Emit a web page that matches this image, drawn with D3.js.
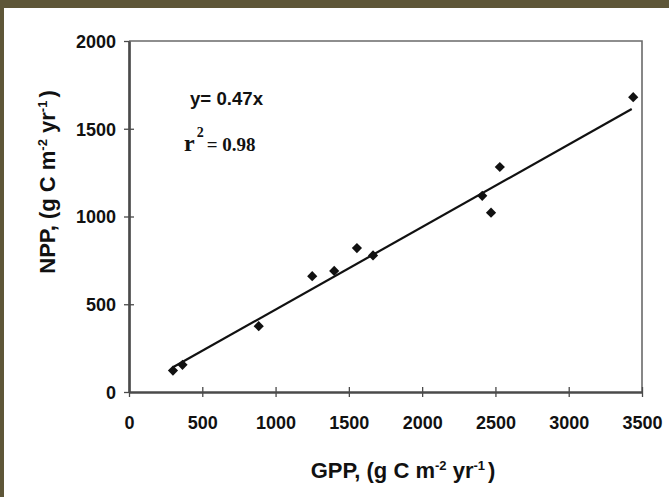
<!DOCTYPE html>
<html>
<head>
<meta charset="utf-8">
<script src="https://cdn.jsdelivr.net/npm/d3@7"></script>
<style>
  html, body { margin: 0; padding: 0; background: #ffffff; }
  svg { display: block; }
</style>
</head>
<body>
<svg id="chart" width="669" height="497"></svg>
<script>
// GPP vs NPP observations
const gpp = [300, 365, 885, 1250, 1400, 1555, 1665, 2410, 2470, 2530, 3440];
const npp = [122, 155, 375, 660, 690, 820, 778, 1118, 1022, 1282, 1680];
const xTicks = [0, 500, 1000, 1500, 2000, 2500, 3000, 3500];
const yTicks = [0, 500, 1000, 1500, 2000];
const slope = 0.47;
const rSquared = "0.98";
const fitRange = [300, 3430];

const svg = d3.select("#chart");
const W = 669, H = 497;

// outer olive frame
svg.append("rect").attr("x", 0).attr("y", 0).attr("width", W).attr("height", H).attr("fill", "#5e5638");
svg.append("rect").attr("x", 4).attr("y", 8).attr("width", W - 4).attr("height", H - 8).attr("fill", "#ffffff");

const x = d3.scaleLinear().domain([0, 3500]).range([129, 642]);
const y = d3.scaleLinear().domain([0, 2000]).range([392, 41]);

const axisColor = "#4a4a4a";
const labelFont = "Liberation Sans, Arial, sans-serif";

// plot box top and right edges
svg.append("path")
  .attr("d", `M${x(0)},${y(2000)}H${x(3500)}V${y(0)}`)
  .attr("fill", "none").attr("stroke", "#6a6a6a").attr("stroke-width", 1.6);

// x axis with crossing ticks
const gx = svg.append("g").attr("transform", `translate(0,${y(0)})`);
gx.call(d3.axisBottom(x).tickValues(xTicks).tickSize(5).tickSizeOuter(0).tickFormat(d3.format("d")));
const gx2 = svg.append("g").attr("transform", `translate(0,${y(0)})`);
gx2.call(d3.axisBottom(x).tickValues(xTicks.slice(1)).tickSize(-5).tickSizeOuter(0).tickFormat(""));

// y axis with crossing ticks
const gy = svg.append("g").attr("transform", `translate(${x(0)},0)`);
gy.call(d3.axisLeft(y).tickValues(yTicks).tickSize(5).tickSizeOuter(0).tickPadding(8).tickFormat(d3.format("d")));
const gy2 = svg.append("g").attr("transform", `translate(${x(0)},0)`);
gy2.call(d3.axisLeft(y).tickValues(yTicks.slice(1, -1)).tickSize(-5).tickSizeOuter(0).tickFormat(""));

[gx, gx2, gy, gy2].forEach(g => {
  g.select(".domain").attr("stroke", axisColor).attr("stroke-width", 2.2);
  g.selectAll(".tick line").attr("stroke", axisColor).attr("stroke-width", 1.3);
  g.selectAll(".tick text")
    .attr("fill", "#111")
    .attr("font-family", labelFont)
    .attr("font-weight", "bold")
    .attr("font-size", 18);
});
gx.selectAll(".tick text").attr("dy", "0.35em").attr("y", 31);
gy.selectAll(".tick text").attr("dy", "0.36em");

// regression line
svg.append("line")
  .attr("x1", x(fitRange[0])).attr("y1", y(slope * fitRange[0]))
  .attr("x2", x(fitRange[1])).attr("y2", y(slope * fitRange[1]))
  .attr("stroke", "#111").attr("stroke-width", 2.2);

// data points as diamonds
const sym = d3.symbol().type(d3.symbolSquare).size(52);
svg.append("g").selectAll("path")
  .data(gpp.map((g, i) => [g, npp[i]]))
  .join("path")
  .attr("d", sym)
  .attr("transform", d => `translate(${x(d[0])},${y(d[1])}) rotate(45)`)
  .attr("fill", "#111");

// equation and fit statistic
svg.append("text")
  .attr("x", 190).attr("y", 105)
  .attr("font-family", labelFont).attr("font-weight", "bold").attr("font-size", 18)
  .attr("textLength", 73).attr("lengthAdjust", "spacingAndGlyphs")
  .attr("fill", "#111")
  .text(`y= ${slope}x`);

const rt = svg.append("text")
  .attr("x", 184).attr("y", 151)
  .attr("font-family", "Liberation Serif, Times New Roman, serif").attr("font-weight", "bold")
  .attr("font-size", 24).attr("fill", "#111");
rt.append("tspan").text("r");
rt.append("tspan").attr("dy", -14).attr("dx", 2).attr("font-size", 14).text("2");
rt.append("tspan").attr("dy", 14).attr("dx", 3).attr("font-size", 19).text(`= ${rSquared}`);

// axis titles
function unitTitle(sel) {
  sel.append("tspan").text("(g C m");
  sel.append("tspan").attr("dy", -8).attr("font-size", 13).text("-2");
  sel.append("tspan").attr("dy", 8).text(" yr");
  sel.append("tspan").attr("dy", -8).attr("font-size", 13).text("-1");
  sel.append("tspan").attr("dy", 8).attr("dx", 3).text(")");
}

const xt = svg.append("text")
  .attr("x", 403).attr("y", 478)
  .attr("text-anchor", "middle")
  .attr("font-family", labelFont).attr("font-weight", "bold").attr("font-size", 22)
  .attr("fill", "#111");
xt.append("tspan").text("GPP, ");
unitTitle(xt);

const yt = svg.append("text")
  .attr("transform", "translate(55,182) rotate(-90)")
  .attr("text-anchor", "middle")
  .attr("font-family", labelFont).attr("font-weight", "bold").attr("font-size", 22)
  .attr("fill", "#111");
yt.append("tspan").text("NPP, ");
unitTitle(yt);
</script>
</body>
</html>
